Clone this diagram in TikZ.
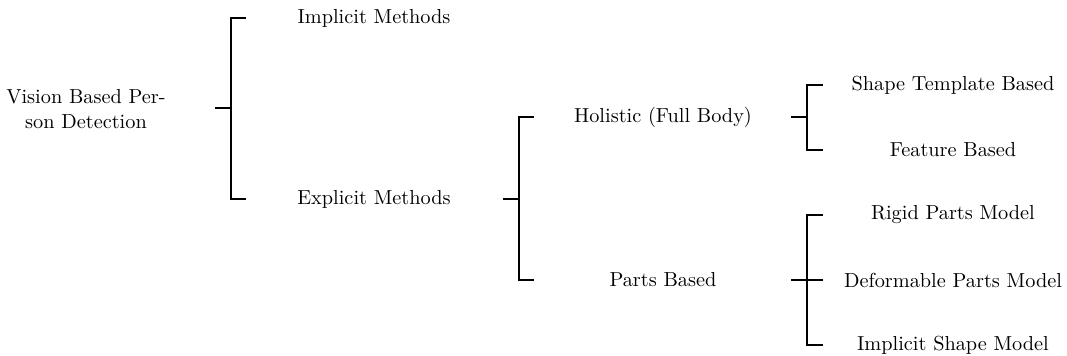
\documentclass[tikz,border=0pt]{standalone}
\begin{document}
\begin{tikzpicture}[x=0.4926pt,y=-0.4926pt,
  lbl/.style={inner sep=0pt,anchor=center,font=\normalsize},
  br/.style={line width=1pt,line cap=rect}]
\useasboundingbox (0,0) rectangle (1067,356);
% texts
\node[lbl,align=center] (root) at (86,109) {Vision Based Per-\\son Detection};
\node[lbl] (impl) at (374,18) {Implicit Methods};
\node[lbl] (expl) at (374,199) {Explicit Methods};
\node[lbl] (hol) at (663,117) {Holistic (Full Body)};
\node[lbl] (parts) at (663,280) {Parts Based};
\node[lbl] (shape) at (953,85) {Shape Template Based};
\node[lbl] (feat) at (953,150) {Feature Based};
\node[lbl] (rigid) at (953,215) {Rigid Parts Model};
\node[lbl] (deform) at (953,280) {Deformable Parts Model};
\node[lbl] (ism) at (953,345) {Implicit Shape Model};
% bracket 1
\coordinate (s1a) at (216,108); \coordinate (s1b) at (231,108);
\coordinate (t1a) at (245,18); \coordinate (t1b) at (245,199);
\draw[br] (s1a) -- (s1b);
\draw[br] (t1a) -| (s1b) |- (t1b);
% bracket 2
\coordinate (s2a) at (504,199); \coordinate (s2b) at (519,199);
\coordinate (t2a) at (533,117); \coordinate (t2b) at (533,280);
\draw[br] (s2a) -- (s2b);
\draw[br] (t2a) -| (s2b) |- (t2b);
% bracket 3
\coordinate (s3a) at (792,117); \coordinate (s3b) at (807,117);
\coordinate (t3a) at (822,85); \coordinate (t3b) at (822,150);
\draw[br] (s3a) -- (s3b);
\draw[br] (t3a) -| (s3b) |- (t3b);
% bracket 4
\coordinate (s4a) at (792,280); \coordinate (s4b) at (807,280);
\coordinate (t4a) at (822,215); \coordinate (t4m) at (822,280); \coordinate (t4b) at (822,345);
\draw[br] (s4a) -- (t4m);
\draw[br] (t4a) -| (s4b) |- (t4b);
\end{tikzpicture}
\end{document}
